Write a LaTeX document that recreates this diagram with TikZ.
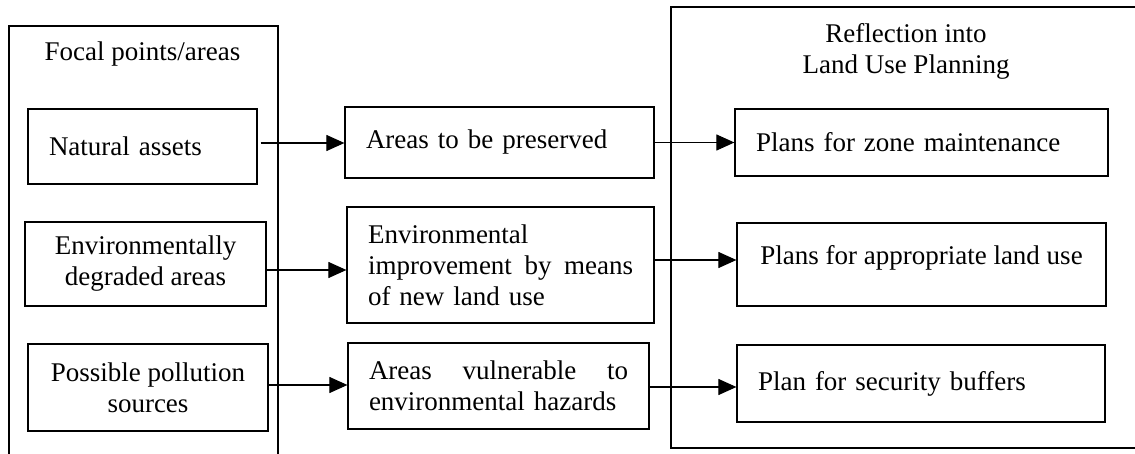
\documentclass[tikz,border=0pt]{standalone}
\usepackage{fontspec}
\setmainfont{Liberation Serif}
\usetikzlibrary{arrows.meta}
\begin{document}
\begin{tikzpicture}[x=0.5pt, y=-0.5pt, line width=0.6pt,
    every node/.style={font=\fontsize{13.5}{15.5}\selectfont},
    box/.style={draw, rectangle, inner sep=0pt, inner xsep=10.5pt},
    arr/.style={-{Triangle[length=9pt, width=8pt]}, line width=0.55pt}]
    \useasboundingbox (0,0) rectangle (1135,454);
    % Marcos abiertos: el izquierdo sigue hacia abajo y el derecho hacia la derecha.
    \draw (9,454) -- (9,26) -- (278,26) -- (278,454);
    \draw (1135,7) -- (671,7) -- (671,448) -- (1135,448);
    \node (focal) at (142.5,54) {Focal points/areas};
    \node[align=center] (refl) at (906,51) {Reflection into\\Land Use Planning};
    \node[box, minimum width=114.5pt, minimum height=37.5pt, text width=93.5pt, align=left]
        (nat) at (142.5,146.5) {Natural assets};
    \node[box, minimum width=120.5pt, minimum height=42pt, align=center]
        (deg) at (145.5,264) {Environmentally\\degraded areas};
    \node[box, minimum width=120pt, minimum height=43.5pt, align=center]
        (pol) at (148,387.5) {Possible pollution\\sources};
    \node[box, minimum width=154.5pt, minimum height=35.5pt, text width=133.5pt, align=left]
        (keep) at (499.5,142.5) {Areas to be preserved};
    \node[box, minimum width=153.5pt, minimum height=58pt, text width=132.5pt, align=left]
        (imp) at (500.5,265) {Environmental\\improvement\hfill by\hfill means\\of new land use};
    \node[box, minimum width=150.5pt, minimum height=43pt, text width=129.5pt, align=left]
        (vul) at (498.5,386) {Areas\hfill vulnerable\hfill to\\environmental hazards};
    \node[box, minimum width=186.5pt, minimum height=33.5pt, text width=165.5pt, align=left]
        (zone) at (921.5,142.5) {Plans for zone maintenance};
    \node[box, minimum width=184.5pt, minimum height=41.5pt, text depth=9.4pt]
        (landuse) at (921.5,264.5) {Plans for appropriate land use};
    \node[box, minimum width=184pt, minimum height=38.5pt, text width=163pt, align=left]
        (buf) at (921,383.5) {Plan for security buffers};
    \draw[arr] ([xshift=1.5pt, yshift=1.75pt]nat.east) -- ([yshift=-0.25pt]keep.west);
    \draw[arr] ([yshift=-3pt]deg.east) -- ([yshift=-2.5pt]imp.west);
    \draw[arr] ([yshift=1.25pt]pol.east) -- ([yshift=0.5pt]vul.west);
    \draw[arr] (keep.east) -- (zone.west);
    \draw[arr] ([yshift=2.5pt]imp.east) -- ([yshift=2.25pt]landuse.west);
    \draw[arr] ([yshift=-0.5pt]vul.east) -- ([yshift=-1.75pt]buf.west);
\end{tikzpicture}
\end{document}
